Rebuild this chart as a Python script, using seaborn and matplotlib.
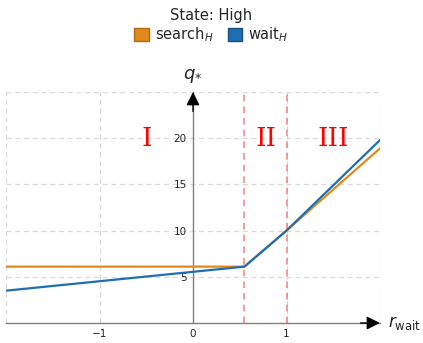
import pandas as pd
import matplotlib.pyplot as plt
import seaborn as sns
from matplotlib.patches import Patch

# breakpoints
r_wait = [-2.0, 0.55, 1.0, 2.0]
search_h = [6.1, 6.1, 10.0, 18.9]
wait_h = [3.5, 6.1, 10.0, 19.8]
regimes = ["I", "II", "III"]
regime_x = [-0.5, 0.78, 1.5]
bounds = [0.55, 1.0]

c_search = "#e0891c"
c_wait = "#1f6fb2"

df = pd.concat([
    pd.DataFrame({"r": r_wait, "q": search_h, "series": "search"}),
    pd.DataFrame({"r": r_wait, "q": wait_h, "series": "wait"}),
])

sns.set_style("white")
fig = plt.figure(figsize=(4.23, 3.43), dpi=100)
ax = fig.add_axes([6 / 423, 1 - 323 / 343, 374 / 423, 231 / 343])

sns.lineplot(data=df, x="r", y="q", hue="series",
             palette={"search": c_search, "wait": c_wait},
             linewidth=1.6, ax=ax, legend=False, zorder=3)

ax.set_xlim(-2, 2)
ax.set_ylim(0, 25)

# dashed grid
for gx in [-2, -1, 1, 2]:
    ax.axvline(gx, color="#d9d9d9", ls=(0, (4, 3)), lw=0.9, zorder=0)
for gy in [5, 10, 15, 20, 25]:
    ax.axhline(gy, color="#d9d9d9", ls=(0, (4, 3)), lw=0.9, zorder=0)

for b in bounds:
    ax.axvline(b, color="#f08080", ls=(0, (4, 3)), lw=1.2, alpha=0.9, zorder=1)

for lab, xv in zip(regimes, regime_x):
    ax.text(xv, 20, lab, color="red", fontsize=19, family="DejaVu Serif",
            ha="center", va="center")

# axes through origin
for s in ["top", "right"]:
    ax.spines[s].set_visible(False)
ax.spines["left"].set_position(("data", 0))
ax.spines["bottom"].set_position(("data", 0))
for s in ["left", "bottom"]:
    ax.spines[s].set_color("#808080")
    ax.spines[s].set_linewidth(1.0)

ax.set_xticks([-1, 0, 1])
ax.set_xticks([v / 5 for v in range(-10, 10) if v % 5], minor=True)
ax.set_yticks([5, 10, 15, 20])
ax.set_yticks([v for v in range(1, 25) if v % 5], minor=True)
ax.tick_params(which="major", direction="inout", length=5, width=0.8,
               color="#555555", labelsize=7.5, labelcolor="#222222", pad=2)
ax.tick_params(which="minor", direction="inout", length=3, width=0.6,
               color="#555555")
ax.set_xlabel("")
ax.set_ylabel("")

# arrow heads, tips at the ends of the axes
arrow = dict(arrowstyle="-|>", color="black", lw=1.0, mutation_scale=20,
             shrinkA=0, shrinkB=0)
ax.annotate("", xy=(1, 0), xycoords=ax.get_yaxis_transform(),
            xytext=(-14, 0), textcoords="offset points",
            arrowprops=arrow, annotation_clip=False, zorder=5)
ax.annotate("", xy=(0, 1), xycoords=ax.get_xaxis_transform(),
            xytext=(0, -14), textcoords="offset points",
            arrowprops=arrow, annotation_clip=False, zorder=5)
ax.annotate(r"$r_{\mathrm{wait}}$", xy=(1, 0), xycoords=ax.get_yaxis_transform(),
            xytext=(6, 0), textcoords="offset points", fontsize=12,
            va="center", ha="left", annotation_clip=False)
ax.annotate(r"$q_{*}$", xy=(0, 1), xycoords=ax.get_xaxis_transform(),
            xytext=(0, 5), textcoords="offset points", fontsize=13,
            va="bottom", ha="center", annotation_clip=False)

handles = [Patch(facecolor=c_search, edgecolor="#b06a10", label=r"search$_H$"),
           Patch(facecolor=c_wait, edgecolor="#155080", label=r"wait$_H$")]
fig.legend(handles=handles, title="State: High", loc="upper center",
           bbox_to_anchor=(0.5, 0.995), ncol=2, frameon=False, fontsize=10.5,
           title_fontsize=10.5, handlelength=1.0, handleheight=1.0,
           handletextpad=0.4, columnspacing=1.0, borderaxespad=0.1,
           labelspacing=0.2, borderpad=0.3)

fig.savefig("out.png", dpi=100)
